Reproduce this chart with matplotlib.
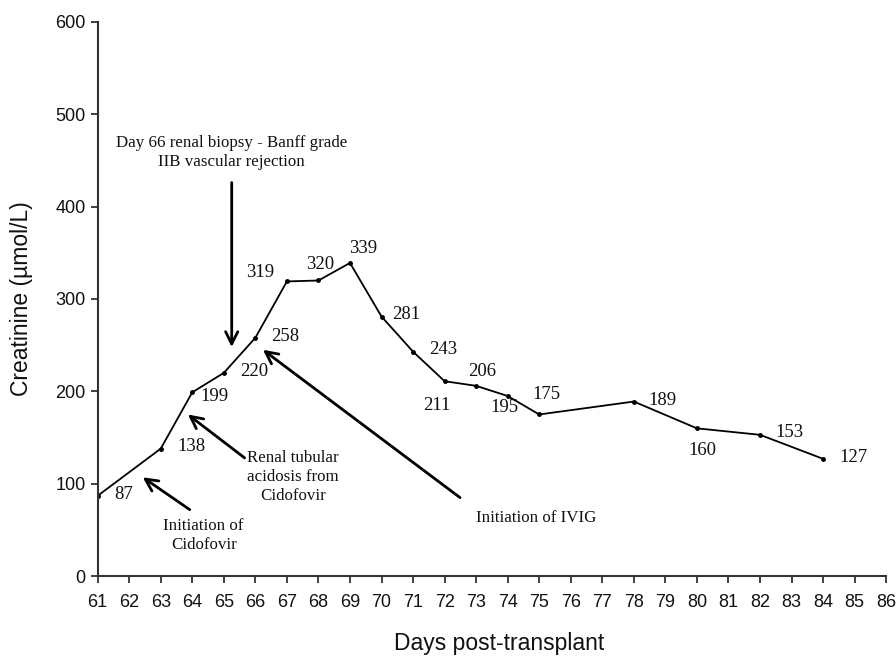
import numpy as np
from matplotlib import pyplot as plt

# creatinine course after transplant
days = [61, 63, 64, 65, 66, 67, 68, 69, 70, 71, 72, 73, 74, 75, 78, 80, 82, 84]
creat = [87, 138, 199, 220, 258, 319, 320, 339, 281, 243, 211, 206, 195, 175,
         189, 160, 153, 127]

# where each value label sits (data coords)
label_x = [61.82, 63.98, 64.71, 65.95, 66.93, 66.14, 68.04, 69.41, 70.77, 71.95,
           71.75, 73.2, 73.9, 75.24, 78.9, 80.16, 82.95, 84.95]
label_y = [88, 140, 194, 221, 259, 329, 337, 355, 283, 245,
           185, 221, 183, 197, 190, 136, 155, 128]

# annotation text, text position, arrow tail, arrow tip
notes = ['Day 66 renal biopsy - Banff grade\nIIB vascular rejection',
         'Initiation of\nCidofovir',
         'Renal tubular\nacidosis from\nCidofovir',
         'Initiation of IVIG']
note_xy = [(65.25, 458), (64.36, 44), (67.19, 107), (74.9, 63)]
tail_xy = [(65.25, 426), (63.92, 72), (65.66, 128), (72.49, 85)]
tip_xy = [(65.25, 248), (62.43, 107), (63.86, 175), (66.24, 245)]

serif = 'Liberation Serif'
sans = 'Liberation Sans'

fig = plt.figure(figsize=(8.96, 6.6), dpi=100)
ax = fig.add_axes([0.109, 0.127, 0.88, 0.84])

ax.plot(days, creat, color='black', lw=1.3, marker='o', ms=2.5)

for v, x, y in zip(creat, label_x, label_y):
    ax.text(x, y, str(v), ha='center', va='center', fontsize=13.5,
            family=serif, color='#111111')

for txt, pos, tail, tip in zip(notes, note_xy, tail_xy, tip_xy):
    ax.text(pos[0], pos[1], txt, ha='center', va='center', fontsize=12.2,
            family=serif, linespacing=1.25, color='#111111')
    ax.annotate('', xy=tip, xytext=tail,
                arrowprops=dict(arrowstyle='->', lw=2, color='black',
                                mutation_scale=22, shrinkA=0, shrinkB=0))

ax.set_xlim(61, 86)
ax.set_ylim(0, 600)
ax.set_xticks(np.arange(61, 87))
ax.set_yticks(np.arange(0, 601, 100))
for s in ['top', 'right']:
    ax.spines[s].set_visible(False)
for s in ['left', 'bottom']:
    ax.spines[s].set_color('#333333')
    ax.spines[s].set_linewidth(1.5)
ax.tick_params(direction='out', length=5, width=1.3, color='#333333',
               labelsize=13, labelcolor='#111111')
for lab in ax.get_xticklabels() + ax.get_yticklabels():
    lab.set_family(sans)
ax.tick_params(axis='x', pad=8)
ax.set_xlabel('Days post-transplant', fontsize=16.5, family=sans, color='#111111')
ax.set_ylabel('Creatinine (\u00b5mol/L)', fontsize=16.5, family=sans, color='#111111')
ax.xaxis.set_label_coords(0.509, -0.121)
ax.xaxis.label.set_va('center')
ax.yaxis.set_label_coords(-0.0964, 0.5)
ax.yaxis.label.set_va('center')
ax.yaxis.label.set_ha('center')

fig.savefig('out.png', dpi=100)
